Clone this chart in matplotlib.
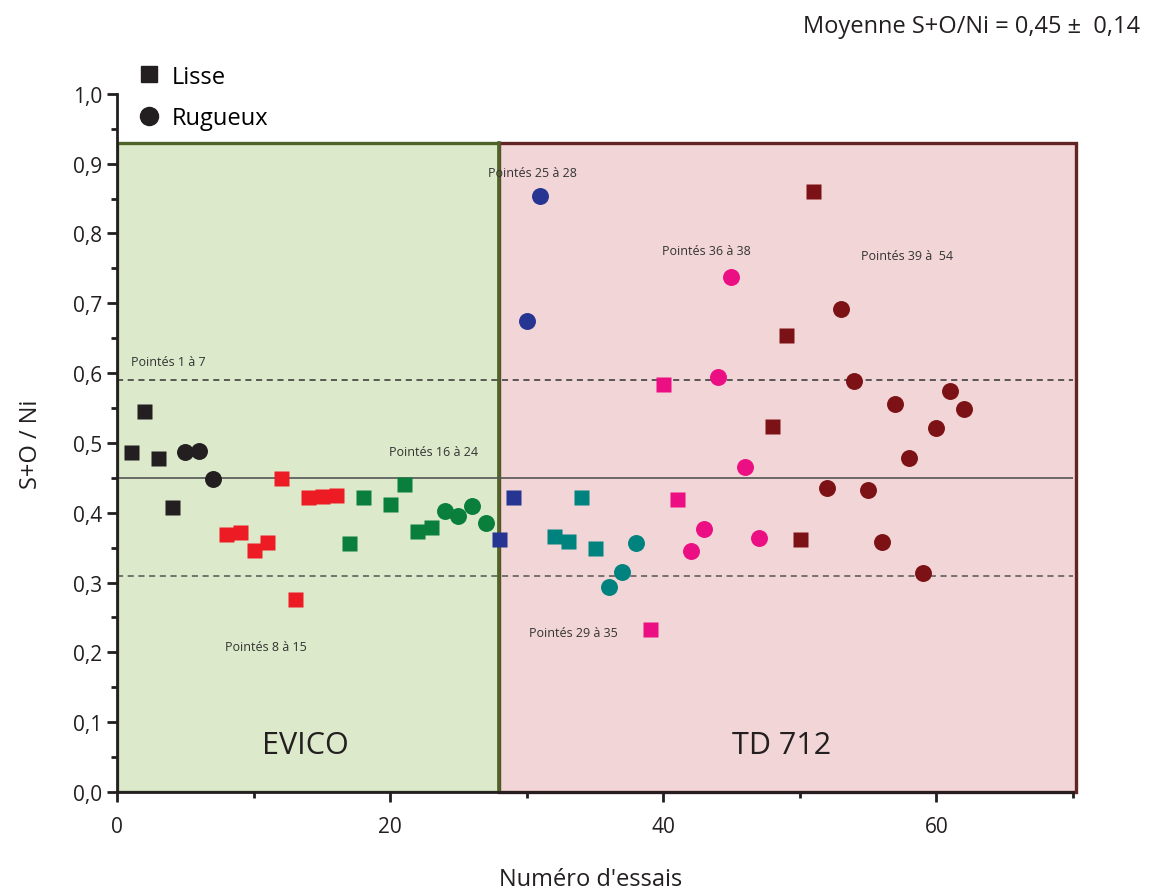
import matplotlib.pyplot as plt
from matplotlib.patches import Rectangle
from matplotlib.lines import Line2D

plt.rcParams['font.family'] = ['Open Sans', 'DejaVu Sans']

# data: (numero, S+O/Ni)
x_noir_lisse = [1, 2, 3, 4]
y_noir_lisse = [0.487, 0.546, 0.478, 0.408]
x_noir_rug = [5, 6, 7]
y_noir_rug = [0.487, 0.488, 0.449]

x_rouge_lisse = [8, 9, 10, 11, 12, 13, 14, 15, 16]
y_rouge_lisse = [0.370, 0.372, 0.347, 0.358, 0.450, 0.276, 0.423, 0.424, 0.425]

x_vert_lisse = [17, 18, 20, 21, 22, 23]
y_vert_lisse = [0.357, 0.422, 0.413, 0.441, 0.374, 0.379]
x_vert_rug = [24, 25, 26, 27]
y_vert_rug = [0.403, 0.396, 0.409, 0.385]

x_bleu_lisse = [28, 29]
y_bleu_lisse = [0.362, 0.423]
x_bleu_rug = [30, 31]
y_bleu_rug = [0.674, 0.854]

x_sarc_lisse = [32, 33, 34, 35]
y_sarc_lisse = [0.367, 0.359, 0.423, 0.349]
x_sarc_rug = [36, 37, 38]
y_sarc_rug = [0.294, 0.315, 0.357]

x_rose_lisse = [39, 40, 41]
y_rose_lisse = [0.234, 0.584, 0.419]
x_rose_rug = [42, 43, 44, 45, 46, 47]
y_rose_rug = [0.345, 0.377, 0.595, 0.738, 0.465, 0.364]

x_bord_lisse = [48, 49, 50, 51]
y_bord_lisse = [0.524, 0.654, 0.362, 0.861]
x_bord_rug = [52, 53, 54, 55, 56, 57, 58, 59, 60, 61, 62]
y_bord_rug = [0.435, 0.692, 0.588, 0.432, 0.358, 0.556, 0.478, 0.313, 0.522, 0.574, 0.549]

moyenne = 0.45
bas, haut = 0.31, 0.59

groupes = [
    (x_noir_lisse, y_noir_lisse, x_noir_rug, y_noir_rug, '#231f20'),
    (x_rouge_lisse, y_rouge_lisse, [], [], '#ed1c24'),
    (x_vert_lisse, y_vert_lisse, x_vert_rug, y_vert_rug, '#0a7f3c'),
    (x_bleu_lisse, y_bleu_lisse, x_bleu_rug, y_bleu_rug, '#263592'),
    (x_sarc_lisse, y_sarc_lisse, x_sarc_rug, y_sarc_rug, '#00837e'),
    (x_rose_lisse, y_rose_lisse, x_rose_rug, y_rose_rug, '#ec0f84'),
    (x_bord_lisse, y_bord_lisse, x_bord_rug, y_bord_rug, '#7d1216'),
]

fig = plt.figure(figsize=(11.53, 8.95), dpi=100)
ax = fig.add_axes([0.1015, 0.114, 0.829, 0.780])

# zones EVICO / TD 712
ax.add_patch(Rectangle((0, 0), 28, 0.93, facecolor='#dce9cb', edgecolor='#4f6228', lw=2.4, zorder=0))
ax.add_patch(Rectangle((28, 0), 42.2, 0.93, facecolor='#f2d5d6', edgecolor='#632523', lw=2.4,
                       zorder=0, clip_on=False))
ax.plot([28, 28], [0, 0.93], color='#4f6228', lw=2.6, zorder=1)

ax.plot([0, 70], [moyenne, moyenne], color='#555555', lw=1.2, zorder=2)
ax.plot([0, 70], [haut, haut], color='#333333', lw=1.1, ls=(0, (4, 3)), zorder=2)
ax.plot([0, 70], [bas, bas], color='#555555', lw=1.1, ls=(0, (4, 3)), zorder=2)

for xl, yl, xr, yr, c in groupes:
    ax.plot(xl, yl, 's', color=c, ms=10.8, mec='none', zorder=3)
    if xr:
        ax.plot(xr, yr, 'o', color=c, ms=12.2, mec='none', zorder=3)

txt = dict(fontsize=9, color='#333333', va='center', ha='left', zorder=4)
ax.text(1.0, 0.616, 'Pointés 1 à 7', **txt)
ax.text(7.9, 0.208, 'Pointés 8 à 15', **txt)
ax.text(19.9, 0.487, 'Pointés 16 à 24', **txt)
ax.text(27.2, 0.888, 'Pointés 25 à 28', **txt)
ax.text(30.2, 0.228, 'Pointés 29 à 35', **txt)
ax.text(39.9, 0.775, 'Pointés 36 à 38', **txt)
ax.text(54.5, 0.768, 'Pointés 39 à  54', **txt)

ax.text(13.8, 0.067, 'EVICO', fontsize=22, color='#231f20', ha='center', va='center', zorder=4)
ax.text(48.7, 0.067, 'TD 712', fontsize=22, color='#231f20', ha='center', va='center', zorder=4)

ax.set_xlim(0, 70)
ax.set_ylim(0, 1.0)
ax.set_xticks([0, 20, 40, 60])
ax.set_xticks([10, 30, 50, 70], minor=True)
ax.set_yticks([i / 10 for i in range(11)])
ax.set_yticklabels([('%.1f' % (i / 10)).replace('.', ',') for i in range(11)])
ax.set_yticks([i / 10 + 0.05 for i in range(10)], minor=True)
ax.tick_params(axis='both', which='major', labelsize=15, length=7, width=2, color='#231f20', labelcolor='#231f20')
ax.tick_params(axis='x', which='major', pad=10)
ax.tick_params(axis='both', which='minor', length=4, width=2, color='#231f20')
for s in ['top', 'right']:
    ax.spines[s].set_visible(False)
for s in ['left', 'bottom']:
    ax.spines[s].set_linewidth(2)
    ax.spines[s].set_color('#231f20')
    ax.spines[s].set_zorder(5)

ax.set_ylabel('S+O / Ni', fontsize=17, color='#231f20', labelpad=22)
fig.text(0.512, 0.017, "Numéro d'essais", fontsize=17, color='#231f20', ha='center', va='center')

poignees = [
    Line2D([], [], marker='s', ls='none', color='#231f20', ms=11, label='Lisse'),
    Line2D([], [], marker='o', ls='none', color='#231f20', ms=13, label='Rugueux'),
]
ax.legend(handles=poignees, loc='upper left', bbox_to_anchor=(0.107, 0.94),
          bbox_transform=fig.transFigure, frameon=False, fontsize=17,
          handletextpad=0.35, labelspacing=0.75, handlelength=1.2, borderpad=0)

fig.text(0.989, 0.970, 'Moyenne S+O/Ni = 0,45 ±  0,14', fontsize=17, color='#231f20',
         ha='right', va='center')

fig.savefig('out.png', dpi=100)
